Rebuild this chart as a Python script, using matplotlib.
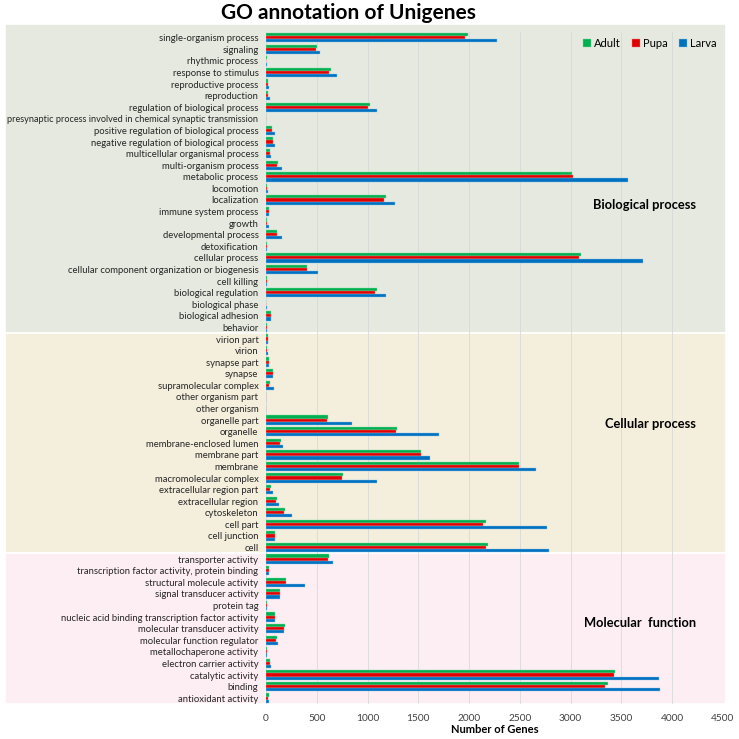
import matplotlib.pyplot as plt
import numpy as np

plt.rcParams['font.family'] = ['Lato', 'DejaVu Sans']

# categories top -> bottom
bio_terms = ['single-organism process', 'signaling', 'rhythmic process', 'response to stimulus',
             'reproductive process', 'reproduction', 'regulation of biological process',
             'presynaptic process involved in chemical synaptic transmission',
             'positive regulation of biological process', 'negative regulation of biological process',
             'multicellular organismal process', 'multi-organism process', 'metabolic process',
             'locomotion', 'localization', 'immune system process', 'growth', 'developmental process',
             'detoxification', 'cellular process', 'cellular component organization or biogenesis',
             'cell killing', 'biological regulation', 'biological phase', 'biological adhesion',
             'behavior']
cel_terms = ['virion part', 'virion', 'synapse part', 'synapse', 'supramolecular complex',
             'other organism part', 'other organism', 'organelle part', 'organelle',
             'membrane-enclosed lumen', 'membrane part', 'membrane', 'macromolecular complex',
             'extracellular region part', 'extracellular region', 'cytoskeleton', 'cell part',
             'cell junction', 'cell']
mol_terms = ['transporter activity', 'transcription factor activity, protein binding',
             'structural molecule activity', 'signal transducer activity', 'protein tag',
             'nucleic acid binding transcription factor activity', 'molecular transducer activity',
             'molecular function regulator', 'metallochaperone activity', 'electron carrier activity',
             'catalytic activity', 'binding', 'antioxidant activity']

adult_bio = [1987, 502, 5, 637, 16, 16, 1021, 2, 62, 69, 43, 118, 3015,
             7, 1182, 33, 13, 108, 10, 3100, 407, 7, 1097, 2, 53, 10]
pupa_bio = [1957, 493, 4, 624, 20, 23, 1002, 2, 62, 66, 43, 108, 3025,
            7, 1163, 33, 13, 105, 10, 3080, 400, 7, 1074, 2, 53, 8]
larva_bio = [2276, 529, 6, 696, 33, 39, 1090, 2, 89, 92, 46, 158, 3563,
             16, 1271, 33, 26, 158, 13, 3711, 516, 7, 1182, 5, 53, 13]

adult_cel = [16, 13, 33, 72, 43, 1, 1, 611, 1287, 144, 1524, 2493, 759, 46, 105, 187, 2164, 89, 2190]
pupa_cel = [16, 13, 33, 66, 33, 1, 1, 604, 1281, 138, 1527, 2493, 752, 39, 102, 177, 2138, 85, 2167]
larva_cel = [20, 16, 33, 72, 79, 3, 3, 844, 1701, 171, 1612, 2657, 1090, 66, 128, 253, 2765, 85, 2788]

adult_mol = [621, 26, 200, 141, 7, 89, 184, 105, 7, 39, 3438, 3366, 26]
pupa_mol = [608, 26, 200, 138, 7, 85, 177, 99, 7, 39, 3432, 3343, 23]
larva_mol = [660, 26, 388, 141, 7, 85, 177, 118, 7, 49, 3872, 3882, 26]

terms = bio_terms + cel_terms + mol_terms
adult = adult_bio + adult_cel + adult_mol
pupa = pupa_bio + pupa_cel + pupa_mol
larva = larva_bio + larva_cel + larva_mol

fig = plt.figure(figsize=(7.39, 7.39), dpi=100)
ax = fig.add_axes([0.36, 0.0474, 0.618, 0.9093])
ax.set_facecolor('none')

y = np.arange(len(terms))
h = 0.27
ax.barh(y - h, adult, height=h, color='#00B050', edgecolor='#7fdca8', linewidth=0.3, label='Adult', zorder=3)
ax.barh(y, pupa, height=h, color='#E00000', edgecolor='#f07f7f', linewidth=0.3, label='Pupa', zorder=3)
ax.barh(y + h, larva, height=h, color='#0070C0', edgecolor='#8fc3ea', linewidth=0.3, label='Larva', zorder=3)

ax.set_ylim(len(terms) - 0.5, -0.5)
ax.set_xlim(0, 4500)
ax.set_xticks(np.arange(0, 4501, 500))
ax.set_yticks(y)
ax.set_yticklabels(terms, fontsize=6.8, color='#262626')
# the longest label has to fit next to the figure edge
for t in ax.get_yticklabels():
    if len(t.get_text()) > 55:
        t.set_fontsize(6.6)
ax.tick_params(axis='y', length=0, pad=5.5)
ax.tick_params(axis='x', length=0, labelsize=7.3, labelcolor='#404040', pad=7)
for s in ax.spines.values():
    s.set_visible(False)
ax.grid(axis='x', color='#d9d9d9', linewidth=0.6, zorder=1)
ax.set_axisbelow(True)

# section background bands
nb, nc = len(bio_terms), len(cel_terms)
bands = [(-1.2, nb - 0.5, '#E5E9DF'),
         (nb - 0.5, nb + nc - 0.5, '#F4EEDC'),
         (nb + nc - 0.5, len(terms) - 0.5, '#FDEEF3')]
for y0, y1, c in bands:
    ax.axhspan(y0, y1, xmin=-0.571, xmax=1.008, facecolor=c, edgecolor='white',
               linewidth=1.2, clip_on=False, zorder=0)

ax.text(0.829, 0.7426, 'Biological process', transform=ax.transAxes, ha='center', va='center',
        fontsize=9.3, fontweight='bold')
ax.text(0.842, 0.4167, 'Cellular process', transform=ax.transAxes, ha='center', va='center',
        fontsize=9.3, fontweight='bold')
ax.text(0.818, 0.1205, 'Molecular  function', transform=ax.transAxes, ha='center', va='center',
        fontsize=9.3, fontweight='bold')

ax.legend(loc='center', bbox_to_anchor=(0.84, 0.9836), ncol=3, frameon=False, fontsize=8,
          handlelength=0.7, handleheight=0.7, handletextpad=0.3, columnspacing=1.0)

ax.set_xlabel('Number of Genes', fontsize=8, fontweight='bold', labelpad=1)
fig.suptitle('GO annotation of Unigenes', x=0.472, y=0.996, fontsize=15, fontweight='bold', va='top')

fig.savefig('out.png', dpi=100)
